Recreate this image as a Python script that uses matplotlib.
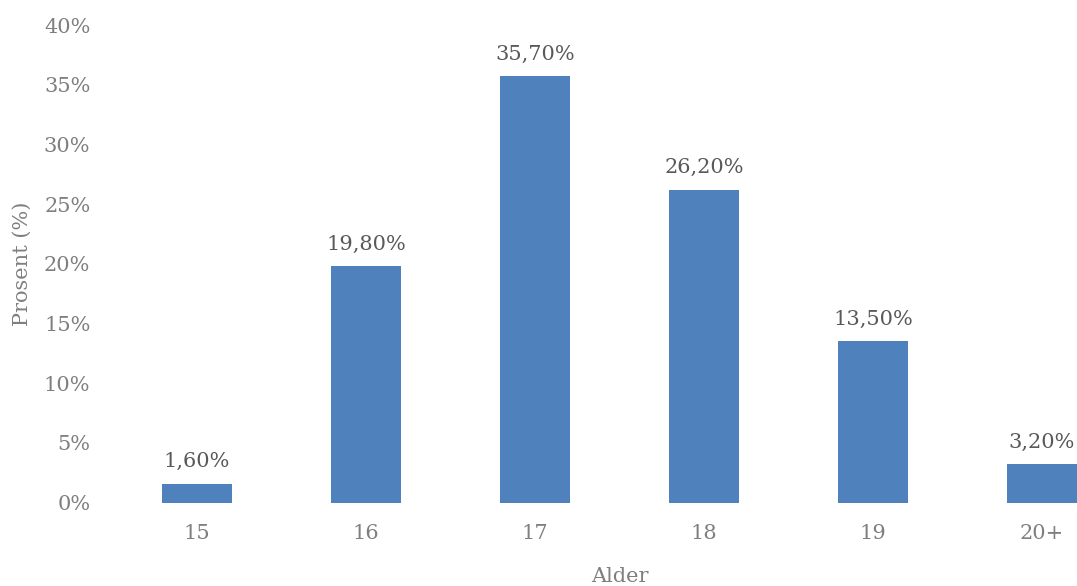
import matplotlib.pyplot as plt

# data
ages = ['15', '16', '17', '18', '19', '20+']
share = [1.6, 19.8, 35.7, 26.2, 13.5, 3.2]
labels = ['1,60%', '19,80%', '35,70%', '26,20%', '13,50%', '3,20%']
yticks = [0, 5, 10, 15, 20, 25, 30, 35, 40]

plt.rcParams['font.family'] = ['DejaVu Serif']

fig = plt.figure(figsize=(10.77, 5.86), dpi=100)
# chart is cropped on the right, so the axes run past the figure edge
ax = fig.add_axes([0.1045, 0.1422, 0.9415, 0.815])

x = range(len(ages))
bars = ax.bar(x, share, width=0.414, color='#4F81BD')

for b, lab in zip(bars, labels):
    ax.annotate(lab, (b.get_x() + b.get_width() / 2, b.get_height()),
                xytext=(0, 9), textcoords='offset points',
                ha='center', va='bottom', fontsize=15, color='#595959')

ax.set_xlim(-0.5, 5.5)
ax.set_ylim(0, 40)
ax.set_xticks(list(x))
ax.set_xticklabels(ages)
ax.set_yticks(yticks)
ax.set_yticklabels([f'{t}%' for t in yticks])
ax.tick_params(axis='both', length=0, labelsize=15, labelcolor='#7F7F7F')
ax.tick_params(axis='x', pad=15)
ax.tick_params(axis='y', pad=16)
for s in ax.spines.values():
    s.set_visible(False)

ax.set_ylabel('Prosent (%)', fontsize=15, color='#7F7F7F', va='center')
ax.yaxis.set_label_coords(-0.0893, 0.5)
ax.set_xlabel('Alder', fontsize=15, color='#7F7F7F', va='center')
ax.xaxis.set_label_coords(0.5, -0.1555)

fig.savefig('out.png', dpi=100)
